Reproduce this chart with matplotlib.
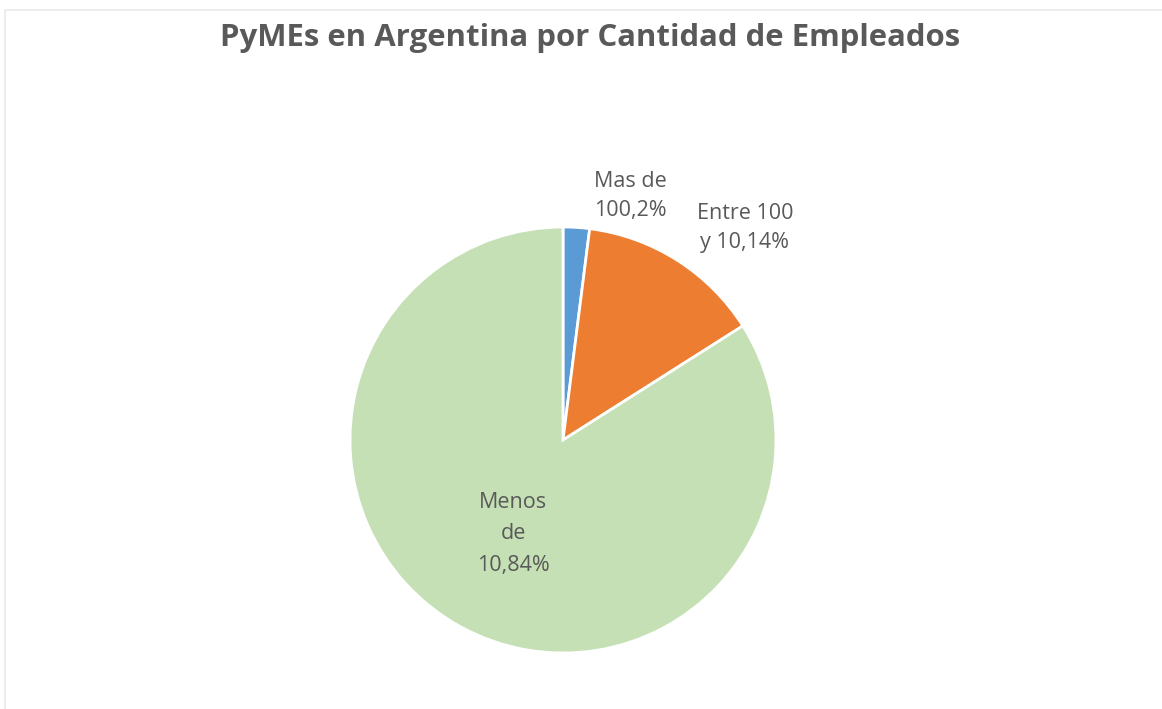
import matplotlib.pyplot as plt
from matplotlib.patches import Rectangle

# datos
categorias = ['Mas de\n100', 'Entre 100\ny 10', 'Menos\nde\n10']
porcentajes = [2, 14, 84]
etiquetas = ['Mas de\n100,2%', 'Entre 100\ny 10,14%', 'Menos\nde\n10,84%']
colores = ['#5B9BD5', '#ED7D31', '#C5E0B4']
pos_etiquetas = [(0.315, 1.145), (0.854, 0.995), (-0.235, -0.44)]
interlineado = [1.5, 1.5, 1.65]

plt.rcParams['font.family'] = ['Open Sans', 'DejaVu Sans']
W, H = 1162, 709
fig = plt.figure(figsize=(W / 100, H / 100), dpi=100)

# marco gris claro
fig.patches.append(Rectangle((5 / W, -0.1), 1.1, (H - 10) / H + 0.1, transform=fig.transFigure,
                             fill=False, edgecolor='#ededed', linewidth=1.5))

cx, cy, r = 563, 440, 213
ax = fig.add_axes([(cx - r) / W, (H - cy - r) / H, 2 * r / W, 2 * r / H])
ax.pie(porcentajes, colors=colores, startangle=90, counterclock=False, radius=1,
       wedgeprops=dict(edgecolor='white', linewidth=2))
ax.set_xlim(-1, 1)
ax.set_ylim(-1, 1)
ax.set_aspect('auto')
ax.axis('off')

for txt, (x, y), ls in zip(etiquetas, pos_etiquetas, interlineado):
    ax.text(x, y, txt, ha='center', va='center', fontsize=15.5, color='#595959',
            linespacing=ls, clip_on=False)

fig.text(590 / W, 1 - 38 / H, 'PyMEs en Argentina por Cantidad de Empleados', ha='center', va='center',
         fontsize=22.4, fontweight='bold', color='#595959')

fig.savefig('out.png', dpi=100)
